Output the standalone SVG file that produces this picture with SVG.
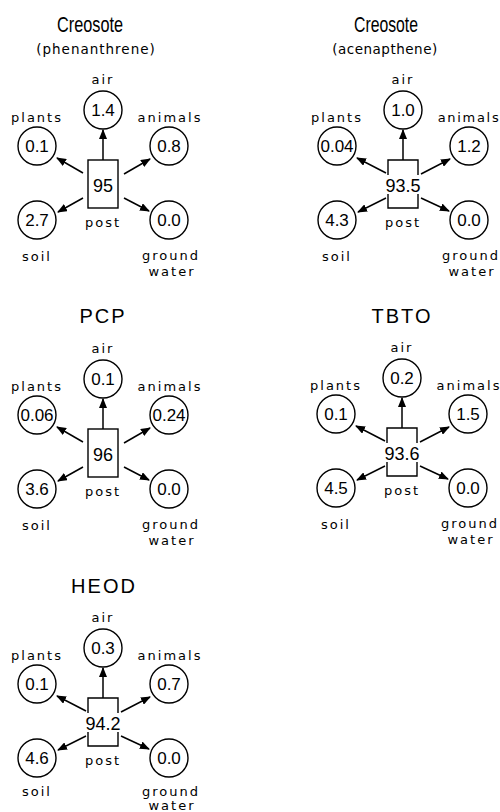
<svg xmlns="http://www.w3.org/2000/svg" width="500" height="812" viewBox="0 0 500 812">
<style>
text{fill:#000;text-anchor:middle}
.t{font-family:"Liberation Sans",Arial,sans-serif;font-size:20px;letter-spacing:2px}
.tc{font-family:"Liberation Sans",Arial,sans-serif;font-size:22px}
.st{font-family:"DejaVu Sans",sans-serif;font-size:13.5px;letter-spacing:1px}
.l{font-family:"DejaVu Sans",sans-serif;font-size:13px;letter-spacing:2px}
.n{font-family:"Liberation Sans",Arial,sans-serif;font-size:17px}
.p{font-family:"Liberation Sans",Arial,sans-serif;font-size:18px}
circle,.box{fill:none;stroke:#000;stroke-width:1.4}
.c line{stroke:#000;stroke-width:1.5;marker-end:url(#ah)}
</style>
<defs>
<marker id="ah" markerWidth="10" markerHeight="8" refX="9" refY="4" orient="auto" markerUnits="userSpaceOnUse"><path d="M0,0 L10,4 L0,8 z" fill="#000"/></marker>
</defs>
<rect width="500" height="812" fill="#fff"/>

<!-- Diagram 1 -->
<g id="d1">
<g id="d1-title"><text class="tc" x="90" y="32" textLength="66" lengthAdjust="spacingAndGlyphs">Creosote</text><text class="st" x="96" y="54">(phenanthrene)</text></g>
<g transform="translate(103,84)">
<g id="d1-air"><text class="l" x="0" y="0">air</text><circle cx="0" cy="26" r="19"/><text class="n" x="0" y="32">1.4</text></g>
<g id="d1-plants"><text class="l" x="-66" y="38">plants</text><circle cx="-66" cy="62" r="19"/><text class="n" x="-66" y="68">0.1</text></g>
<g id="d1-animals"><text class="l" x="67" y="38">animals</text><circle cx="66" cy="62" r="19"/><text class="n" x="66" y="68">0.8</text></g>
<g id="d1-post"><rect class="box" x="-15" y="76" width="30" height="48"/><text class="p" x="0" y="108">95</text><text class="l" x="0" y="143">post</text></g>
<g id="d1-soil"><circle cx="-66" cy="136" r="19"/><text class="n" x="-66" y="142">2.7</text><text class="l" x="-66" y="177">soil</text></g>
<g id="d1-groundwater"><circle cx="66" cy="136" r="19"/><text class="n" x="66" y="142">0.0</text><text class="l" x="68" y="176">ground</text><text class="l" x="69" y="192">water</text></g>
<g id="d1-connectors" class="c"><line x1="0" y1="76" x2="0" y2="46"/><line x1="-20" y1="89" x2="-46" y2="74"/><line x1="21" y1="90" x2="47" y2="75"/><line x1="-20" y1="114" x2="-45" y2="128"/><line x1="21" y1="114" x2="46" y2="127"/></g>
</g>
</g>

<!-- Diagram 2 -->
<g id="d2">
<g id="d2-title"><text class="tc" x="386" y="32" textLength="64" lengthAdjust="spacingAndGlyphs">Creosote</text><text class="st" x="385" y="54" style="letter-spacing:0.5px">(acenapthene)</text></g>
<g transform="translate(403,84)">
<g id="d2-air"><text class="l" x="0" y="0">air</text><circle cx="0" cy="26" r="19"/><text class="n" x="0" y="32">1.0</text></g>
<g id="d2-plants"><text class="l" x="-66" y="38">plants</text><circle cx="-66" cy="62" r="19"/><text class="n" x="-66" y="68">0.04</text></g>
<g id="d2-animals"><text class="l" x="66" y="38" style="letter-spacing:1.7px">animals</text><circle cx="66" cy="62" r="19"/><text class="n" x="66" y="68">1.2</text></g>
<g id="d2-post"><path class="box" d="M-15,91 V76 H15 V91 M-15,110 V124 H15 V110"/><text class="p" x="0" y="108">93.5</text><text class="l" x="0" y="143">post</text></g>
<g id="d2-soil"><circle cx="-66" cy="136" r="19"/><text class="n" x="-66" y="142">4.3</text><text class="l" x="-66" y="177">soil</text></g>
<g id="d2-groundwater"><circle cx="66" cy="136" r="19"/><text class="n" x="66" y="142">0.0</text><text class="l" x="68" y="176">ground</text><text class="l" x="69" y="192">water</text></g>
<g id="d2-connectors" class="c"><line x1="0" y1="76" x2="0" y2="46"/><line x1="-17" y1="89" x2="-46" y2="74"/><line x1="18" y1="90" x2="47" y2="75"/><line x1="-17" y1="114" x2="-45" y2="128"/><line x1="18" y1="114" x2="46" y2="127"/></g>
</g>
</g>

<!-- Diagram 3 -->
<g id="d3">
<g id="d3-title"><text class="t" x="103" y="323">PCP</text></g>
<g transform="translate(103,353)">
<g id="d3-air"><text class="l" x="0" y="0">air</text><circle cx="0" cy="26" r="19"/><text class="n" x="0" y="32">0.1</text></g>
<g id="d3-plants"><text class="l" x="-66" y="38">plants</text><circle cx="-66" cy="62" r="19"/><text class="n" x="-66" y="68">0.06</text></g>
<g id="d3-animals"><text class="l" x="67" y="38">animals</text><circle cx="66" cy="62" r="19"/><text class="n" x="66" y="68">0.24</text></g>
<g id="d3-post"><rect class="box" x="-15" y="76" width="30" height="48"/><text class="p" x="0" y="108">96</text><text class="l" x="0" y="143">post</text></g>
<g id="d3-soil"><circle cx="-66" cy="136" r="19"/><text class="n" x="-66" y="142">3.6</text><text class="l" x="-66" y="177">soil</text></g>
<g id="d3-groundwater"><circle cx="66" cy="136" r="19"/><text class="n" x="66" y="142">0.0</text><text class="l" x="68" y="176">ground</text><text class="l" x="69" y="192">water</text></g>
<g id="d3-connectors" class="c"><line x1="0" y1="76" x2="0" y2="46"/><line x1="-20" y1="89" x2="-46" y2="74"/><line x1="21" y1="90" x2="47" y2="75"/><line x1="-20" y1="114" x2="-45" y2="128"/><line x1="21" y1="114" x2="46" y2="127"/></g>
</g>
</g>

<!-- Diagram 4 -->
<g id="d4">
<g id="d4-title"><text class="t" x="402" y="323">TBTO</text></g>
<g transform="translate(402,352)">
<g id="d4-air"><text class="l" x="0" y="0">air</text><circle cx="0" cy="26" r="19"/><text class="n" x="0" y="32">0.2</text></g>
<g id="d4-plants"><text class="l" x="-66" y="38">plants</text><circle cx="-66" cy="62" r="19"/><text class="n" x="-66" y="68">0.1</text></g>
<g id="d4-animals"><text class="l" x="67" y="38">animals</text><circle cx="66" cy="62" r="19"/><text class="n" x="66" y="68">1.5</text></g>
<g id="d4-post"><path class="box" d="M-15,91 V76 H15 V91 M-15,110 V124 H15 V110"/><text class="p" x="0" y="108">93.6</text><text class="l" x="0" y="143">post</text></g>
<g id="d4-soil"><circle cx="-66" cy="136" r="19"/><text class="n" x="-66" y="142">4.5</text><text class="l" x="-66" y="177">soil</text></g>
<g id="d4-groundwater"><circle cx="66" cy="136" r="19"/><text class="n" x="66" y="142">0.0</text><text class="l" x="68" y="176">ground</text><text class="l" x="69" y="192">water</text></g>
<g id="d4-connectors" class="c"><line x1="0" y1="76" x2="0" y2="46"/><line x1="-17" y1="89" x2="-46" y2="74"/><line x1="18" y1="90" x2="47" y2="75"/><line x1="-17" y1="114" x2="-45" y2="128"/><line x1="18" y1="114" x2="46" y2="127"/></g>
</g>
</g>

<!-- Diagram 5 -->
<g id="d5">
<g id="d5-title"><text class="t" x="104" y="593">HEOD</text></g>
<g transform="translate(103,622)">
<g id="d5-air"><text class="l" x="0" y="0">air</text><circle cx="0" cy="26" r="19"/><text class="n" x="0" y="32">0.3</text></g>
<g id="d5-plants"><text class="l" x="-66" y="38">plants</text><circle cx="-66" cy="62" r="19"/><text class="n" x="-66" y="68">0.1</text></g>
<g id="d5-animals"><text class="l" x="67" y="38">animals</text><circle cx="66" cy="62" r="19"/><text class="n" x="66" y="68">0.7</text></g>
<g id="d5-post"><path class="box" d="M-15,91 V76 H15 V91 M-15,110 V124 H15 V110"/><text class="p" x="0" y="108">94.2</text><text class="l" x="0" y="143">post</text></g>
<g id="d5-soil"><circle cx="-66" cy="136" r="19"/><text class="n" x="-66" y="142">4.6</text><text class="l" x="-66" y="174">soil</text></g>
<g id="d5-groundwater"><circle cx="66" cy="136" r="19"/><text class="n" x="66" y="142">0.0</text><text class="l" x="68" y="174">ground</text><text class="l" x="69" y="188">water</text></g>
<g id="d5-connectors" class="c"><line x1="0" y1="76" x2="0" y2="46"/><line x1="-17" y1="89" x2="-46" y2="74"/><line x1="18" y1="90" x2="47" y2="75"/><line x1="-17" y1="114" x2="-45" y2="128"/><line x1="18" y1="114" x2="46" y2="127"/></g>
</g>
</g>
</svg>
